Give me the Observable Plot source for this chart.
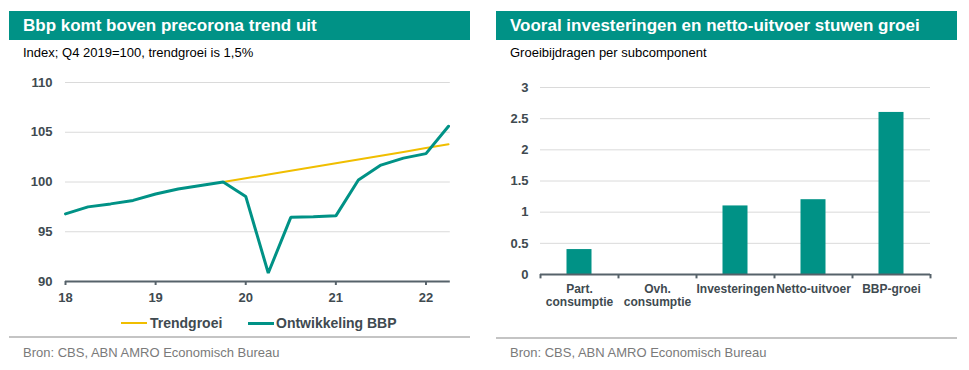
<!DOCTYPE html>
<html>
<head>
<meta charset="utf-8">
<script src="https://cdn.jsdelivr.net/npm/d3@7"></script>
<script src="https://cdn.jsdelivr.net/npm/@observablehq/plot@0.6"></script>
<style>
  html, body { margin: 0; padding: 0; background: #ffffff; }
  body { width: 969px; height: 370px; position: relative; overflow: hidden; font-family: "Liberation Sans", Arial, sans-serif; }
  .abs { position: absolute; }
  .head { background: #009286; color: #ffffff; font-weight: bold; font-size: 17px; height: 29px; line-height: 29px; box-sizing: border-box; padding-left: 14px; white-space: nowrap; }
  .sub { font-size: 13px; color: #000000; white-space: nowrap; }
  .sep { height: 2px; background: #c4c4c4; }
  .src { font-size: 13px; color: #7a7a7a; white-space: nowrap; }
  .leg { font-size: 14px; font-weight: bold; color: #404a50; white-space: nowrap; }
  .sw { display: inline-block; vertical-align: middle; width: 26px; }
</style>
</head>
<body>
<div class="abs head" style="left:9px;top:11px;width:461px;">Bbp komt boven precorona trend uit</div>
<div class="abs sub" style="left:23px;top:45px;">Index; Q4 2019=100, trendgroei is 1,5%</div>
<div id="left" class="abs" style="left:9px;top:60px;"></div>
<div class="abs leg" style="left:121px;top:314px;"><span class="sw" style="height:2px;background:#F0BE00;"></span><span style="vertical-align:middle;margin-left:3px;">Trendgroei</span></div>
<div class="abs leg" style="left:248px;top:314px;"><span class="sw" style="height:3px;background:#009286;"></span><span style="vertical-align:middle;margin-left:2px;">Ontwikkeling BBP</span></div>
<div class="abs sep" style="left:9px;top:336px;width:461px;"></div>
<div class="abs src" style="left:23px;top:345px;">Bron: CBS, ABN AMRO Economisch Bureau</div>

<div class="abs head" style="left:496px;top:11px;width:461px;">Vooral investeringen en netto-uitvoer stuwen groei</div>
<div class="abs sub" style="left:510px;top:45px;">Groeibijdragen per subcomponent</div>
<div id="right" class="abs" style="left:496px;top:60px;"></div>
<div class="abs sep" style="left:496px;top:337px;width:461px;"></div>
<div class="abs src" style="left:510px;top:345px;">Bron: CBS, ABN AMRO Economisch Bureau</div>

<script>
// ---- Left chart data ----
const bbpQuarters = ["2018Q1","2018Q2","2018Q3","2018Q4","2019Q1","2019Q2","2019Q3","2019Q4",
  "2020Q1","2020Q2","2020Q3","2020Q4","2021Q1","2021Q2","2021Q3","2021Q4","2022Q1","2022Q2"];
const bbpIndex = [96.8, 97.5, 97.8, 98.15, 98.8, 99.3, 99.65, 100.0,
  98.55, 90.85, 96.45, 96.5, 96.6, 100.2, 101.7, 102.4, 102.85, 105.6];
const trendQuarters = ["2019Q4","2020Q1","2020Q2","2020Q3","2020Q4","2021Q1","2021Q2","2021Q3","2021Q4","2022Q1","2022Q2"];
const trendIndex = [100.0, 100.37, 100.75, 101.12, 101.5, 101.88, 102.26, 102.64, 103.02, 103.41, 103.79];
const yearTicks = [2018, 2019, 2020, 2021, 2022];
const indexTicks = [90, 95, 100, 105, 110];

// ---- Right chart data ----
const components = ["Part.\nconsumptie", "Ovh.\nconsumptie", "Investeringen", "Netto-uitvoer", "BBP-groei"];
const contributions = [0.4, 0, 1.1, 1.2, 2.6];
const contribTicks = [0, 0.5, 1, 1.5, 2, 2.5, 3];

const GREEN = "#009286";
const YELLOW = "#F0BE00";
const AXIS = "#56626a";
const GRID = "#dadada";
const LABEL = "#404a50";

const qToYear = q => +q.slice(0, 4) + (+q.slice(5) - 1) / 4;
const bbp = bbpQuarters.map((q, i) => ({x: qToYear(q), y: bbpIndex[i]}));
const trend = trendQuarters.map((q, i) => ({x: qToYear(q), y: trendIndex[i]}));
const xMax = qToYear(bbpQuarters[bbpQuarters.length - 1]);

const left = Plot.plot({
  width: 461, height: 250,
  marginLeft: 56, marginRight: 22, marginTop: 22, marginBottom: 29,
  style: {fontFamily: "'Liberation Sans', Arial, sans-serif", color: LABEL, background: "transparent"},
  x: {domain: [2018, xMax], axis: null, label: null},
  y: {domain: [90, 110], axis: null, label: null},
  marks: [
    Plot.ruleY(indexTicks.filter(d => d > 90), {x1: 2018, x2: xMax + 0.02, stroke: GRID, strokeWidth: 1}),
    Plot.axisY({ticks: indexTicks, label: null, tickSize: 0, tickPadding: 13, fontSize: 13, fontWeight: "bold", fill: LABEL}),
    Plot.axisX({ticks: yearTicks, label: null, tickFormat: d => String(d % 100), tickSize: 4, tickPadding: 7, fontSize: 13, fontWeight: "bold", stroke: AXIS, strokeWidth: 2, fill: LABEL}),
    Plot.ruleY([90], {x1: 2018, x2: xMax + 0.02, stroke: AXIS, strokeWidth: 2}),
    Plot.line(trend, {x: "x", y: "y", stroke: YELLOW, strokeWidth: 2}),
    Plot.line(bbp, {x: "x", y: "y", stroke: GREEN, strokeWidth: 3, strokeLinejoin: "miter"})
  ]
});
document.getElementById("left").appendChild(left);

// ---- Right chart ----
const W = 461, mL = 44, mR = 27;
const halfBand = (W - mL - mR) / components.length / 2;
const bars = components.map((c, i) => ({c, v: contributions[i]}));
const right = Plot.plot({
  width: W, height: 260,
  marginLeft: mL, marginRight: mR, marginTop: 27, marginBottom: 46,
  style: {fontFamily: "'Liberation Sans', Arial, sans-serif", color: LABEL, background: "transparent"},
  x: {domain: components, padding: 0, axis: null, label: null},
  y: {domain: [0, 3], axis: null, label: null},
  marks: [
    Plot.ruleY(contribTicks.filter(d => d > 0), {stroke: GRID, strokeWidth: 1}),
    Plot.axisY({ticks: contribTicks, label: null, tickFormat: d => String(d), tickSize: 0, tickPadding: 12, fontSize: 13, fontWeight: "bold", fill: LABEL}),
    Plot.barY(bars, {x: "c", y: "v", fill: GREEN, insetLeft: halfBand - 12.5, insetRight: halfBand - 12.5}),
    Plot.ruleY([0], {stroke: AXIS, strokeWidth: 2}),
    Plot.ruleX(components, {x: d => d, dx: -halfBand, y1: 0, y2: -0.07, stroke: AXIS, strokeWidth: 2}),
    Plot.ruleX(components.slice(-1), {x: d => d, dx: halfBand, y1: 0, y2: -0.07, stroke: AXIS, strokeWidth: 2}),
    Plot.text(components, {x: d => d, y: 0, text: d => d, dy: 10, lineAnchor: "top", lineHeight: 1.05, fontSize: 12, fontWeight: "bold", fill: LABEL})
  ]
});
document.getElementById("right").appendChild(right);
</script>
</body>
</html>
